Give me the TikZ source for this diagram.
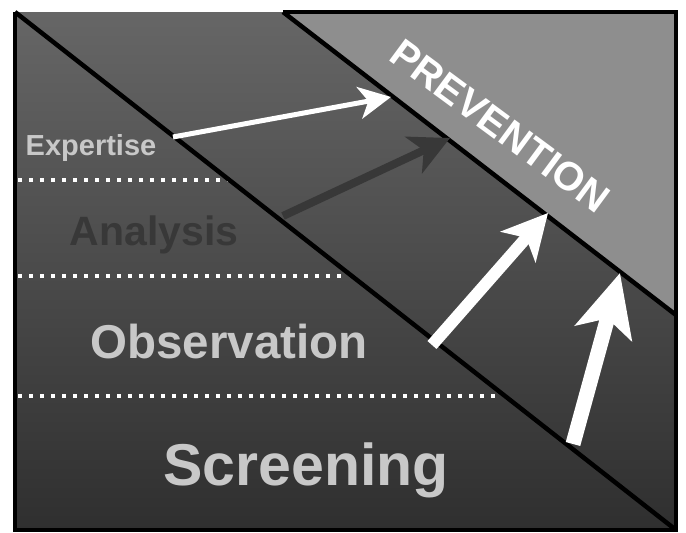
\documentclass[tikz,border=0pt]{standalone}
\usepackage{fontspec}
\setmainfont{Liberation Sans}
\usetikzlibrary{arrows.meta}
\definecolor{paneltop}{RGB}{102,102,102}
\definecolor{panelbot}{RGB}{47,47,47}
\definecolor{wedge}{RGB}{142,142,142}
\definecolor{lbl}{RGB}{200,200,200}
\definecolor{dim}{RGB}{56,56,56}

\begin{document}
\begin{tikzpicture}[x=1pt,y=-1pt,
  level/.style={font=\bfseries,anchor=base,inner sep=0pt,text=lbl},
  dots/.style={white,line width=4pt,dash pattern=on 4pt off 7pt},
  frame/.style={black,line width=4.5pt}]
\useasboundingbox[fill=white](0,0) rectangle (686,533);
% corners
\coordinate (tl) at (15,12);
\coordinate (bl) at (15,530);
\coordinate (br) at (676,530);
\coordinate (tr) at (676,12);
\coordinate (wtop) at (283,12);
\coordinate (wbot) at (676,315);
% panel and wedge
\shade[top color=paneltop,bottom color=panelbot](tl) rectangle (br);
\fill[wedge](wtop)--(tr)--(wbot)--cycle;
% dotted separators
\draw[dots](18,180)--(228,180);
\draw[dots](18,276)--(346,276);
\draw[dots](18,396)--(498,396);
\draw[frame](tl)--(br);
\draw[frame](wtop)--(wbot);
\draw[frame](tl)--(bl)--(br)--(tr)--(wtop);
% labels
\node[level] (exp) at (91,155) {\fontsize{29}{31}\selectfont Expertise};
\node[level,text=dim] (ana) at (154,245) {\fontsize{41}{43}\selectfont Analysis};
\node[level] (obs) at (229,358) {\fontsize{47.5}{50}\selectfont Observation};
\node[level] (scr) at (306,485) {\fontsize{59}{62}\selectfont Screening};
\node[font=\bfseries,text=white,inner sep=0pt,rotate=-36.5] (prev) at (500,126) {\fontsize{40}{42}\selectfont PREVENTION};
% arrows
\coordinate (a1) at (173,137); \coordinate (b1) at (391,97);
\coordinate (a2) at (283,216); \coordinate (b2) at (450,138);
\coordinate (a3) at (432,345); \coordinate (b3) at (548,213);
\coordinate (a4) at (573,444); \coordinate (b4) at (620,273);
\draw[white,line width=5pt,-{Stealth[length=32pt,width=32pt,inset=9pt]}](a1)--(b1);
\draw[dim,line width=8pt,-{Stealth[length=40pt,width=40pt,inset=11pt]}](a2)--(b2);
\draw[white,line width=12pt,-{Stealth[length=45pt,width=46pt,inset=12pt]}](a3)--(b3);
\draw[white,line width=15pt,-{Stealth[length=62pt,width=58pt,inset=15pt]}](a4)--(b4);
\end{tikzpicture}
\end{document}
